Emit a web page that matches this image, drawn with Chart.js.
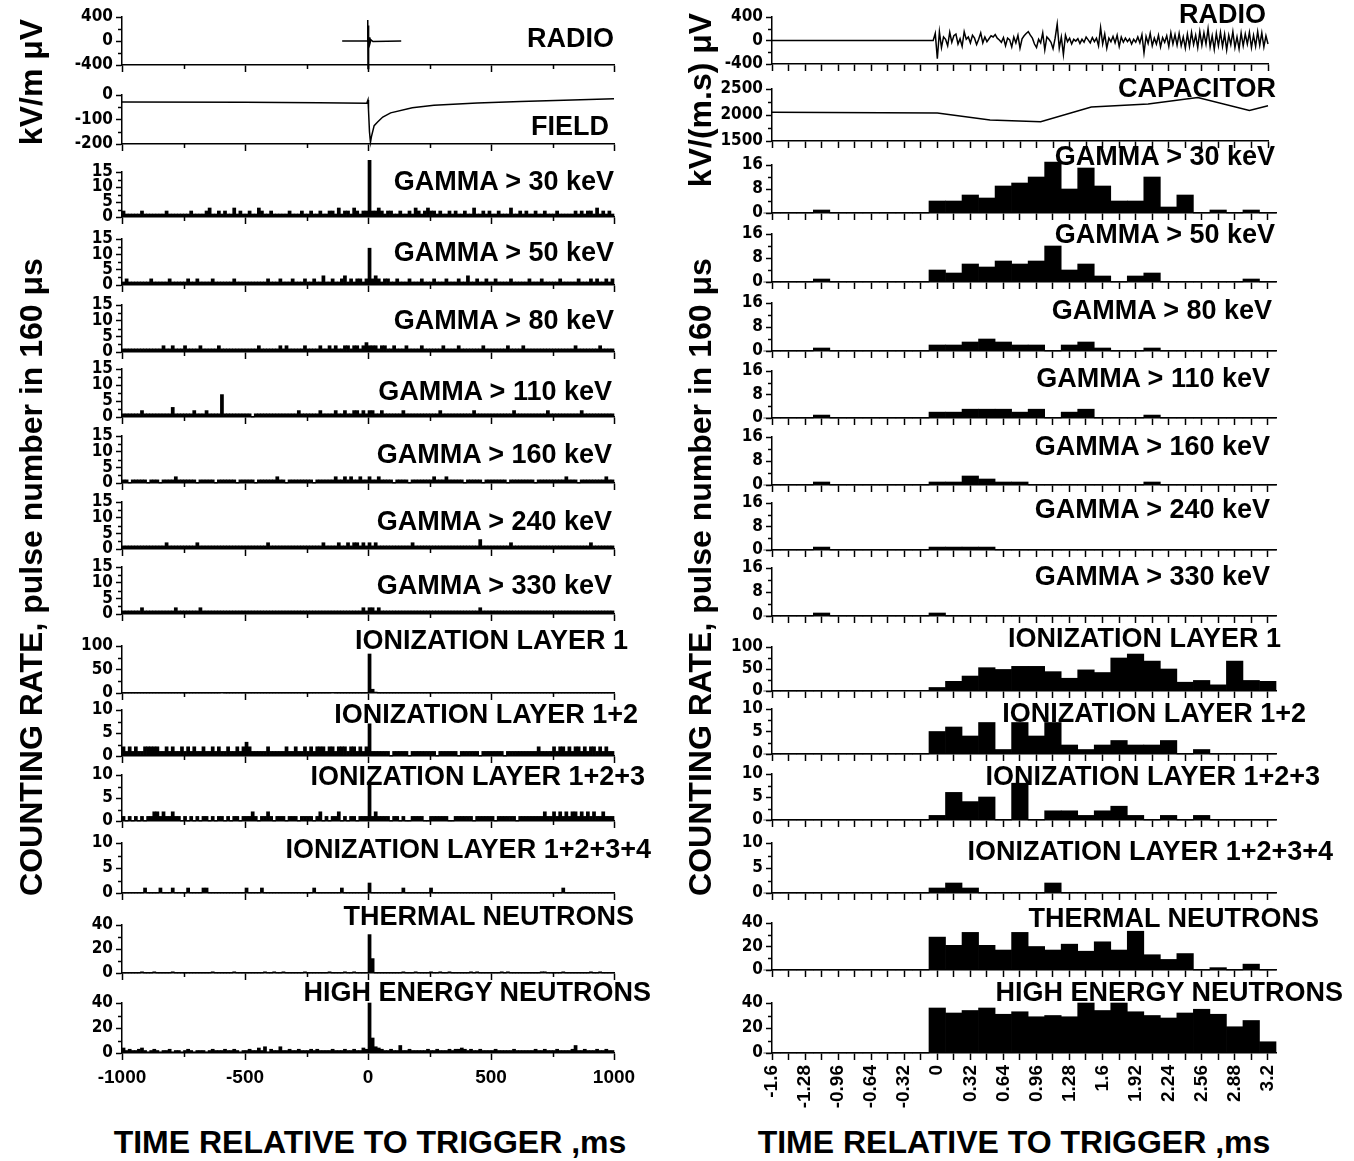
<!DOCTYPE html>
<html>
<head>
<meta charset="utf-8">
<script src="https://cdn.jsdelivr.net/npm/chart.js@4.4.1/dist/chart.umd.min.js"></script>
<style>
body { margin: 0; background: #fff; }
#page { position: relative; width: 1354px; height: 1161px; overflow: hidden; background: #fff;
        font-family: "Liberation Sans", Arial, sans-serif; font-weight: bold; color: #000; }
#page canvas { position: absolute; }
.ttl { position: absolute; font-size: 27px; line-height: 30px; white-space: nowrap; }
.axt { position: absolute; font-size: 32px; line-height: 36px; white-space: nowrap; transform: translate(-50%, -50%) rotate(-90deg); }
.xt  { position: absolute; font-size: 32px; line-height: 36px; white-space: nowrap; transform: translate(-50%, -50%); }
</style>
</head>
<body>
<div id="page"></div>
<script>
// ---------- left column: -1000..1000 ms, 12.5 ms bins ----------
var radioLt = [-105, -3, -1, 0, 1, 2, 3, 4, 6, 8, 12, 20, 135];
var radioLv = [0, 0, 350, -460, 260, -180, 100, -90, 60, -40, 20, -10, 0];

var fieldLt = [-1000, -500, -200, -5, 0, 2, 6, 10, 14, 25, 39, 60, 92, 180, 268, 444, 620, 796, 1000];
var fieldLv = [-29, -30, -32, -34, -20, -60, -150, -193, -170, -125, -110, -90, -73, -52, -42, -33, -27, -21, -15];

var g30L = [
  2,1,1,1,1,1,2,1,1,1,1,1,1,1,2,1,1,1,1,1,
  1,1,2,1,1,1,1,2,3,1,1,2,1,2,1,1,3,1,2,1,
  1,2,1,1,3,2,1,1,2,1,1,1,1,1,2,1,1,1,2,1,
  1,2,1,1,2,1,1,2,2,1,3,1,2,2,1,3,2,1,2,2,
  20,2,2,3,2,1,2,2,1,1,2,1,1,2,1,3,2,1,2,3,
  2,2,1,2,1,1,2,1,2,1,1,2,1,1,3,1,1,2,1,2,
  1,1,2,1,1,1,3,1,1,2,1,2,1,1,2,1,1,2,1,1,
  1,2,1,1,1,1,1,2,1,2,1,2,2,1,3,1,2,1,2,1];
var g50L = [
  1,2,1,1,1,1,1,1,1,2,1,1,1,1,1,2,1,1,1,1,
  1,2,1,1,2,1,1,1,1,2,1,1,1,1,1,1,2,1,1,1,
  1,1,1,1,1,1,1,2,1,1,1,2,1,1,1,2,1,1,1,2,
  1,1,2,1,1,3,1,1,2,1,1,2,3,1,2,1,2,2,1,2,
  12,2,3,2,1,2,2,1,1,2,1,1,1,2,1,1,1,2,1,1,
  1,2,1,1,1,2,1,1,1,2,1,1,3,1,1,2,1,1,2,1,
  1,2,1,1,1,1,2,1,1,1,1,1,2,1,1,1,2,1,1,1,
  1,1,2,1,1,1,1,1,2,1,1,1,2,1,2,1,1,2,1,2];
var g80L = [
  1,1,1,1,1,1,1,1,1,1,1,1,1,2,1,1,2,1,1,1,
  2,1,1,1,1,2,1,1,1,1,1,2,1,1,1,1,1,1,1,1,
  1,1,1,1,2,1,1,1,1,1,1,2,1,2,1,1,1,1,1,2,
  1,1,1,1,2,1,1,2,1,2,1,1,2,2,1,2,2,1,2,3,
  2,2,2,1,2,2,1,1,2,1,1,1,2,1,1,1,1,2,1,1,
  1,1,1,1,2,1,1,1,1,2,1,1,1,1,1,1,1,2,1,1,
  1,1,1,1,1,2,1,1,1,1,2,1,1,1,1,1,1,1,1,1,
  1,1,1,1,1,1,1,2,1,1,1,1,1,1,1,2,1,1,1,1];
var g110L = [
  1,1,1,1,1,1,2,1,1,1,1,1,1,1,1,1,3,1,1,1,
  1,1,1,2,1,1,1,2,1,1,1,1,7,1,1,1,1,1,1,1,
  1,1,0,1,1,1,1,1,1,1,1,1,1,1,1,1,1,2,1,1,
  1,1,1,1,2,1,1,1,1,2,1,1,2,1,1,2,2,1,2,1,
  2,2,1,1,2,1,1,1,1,1,1,2,1,1,1,1,1,1,1,1,
  1,1,1,2,1,1,1,1,1,1,1,1,1,1,2,1,1,1,1,1,
  1,1,1,1,1,1,1,2,1,1,1,1,1,1,1,1,1,1,2,1,
  1,1,1,1,1,1,1,1,1,2,1,1,1,1,1,1,1,1,1,1];
var g160L = [
  1,1,0,1,1,1,1,1,0,1,1,1,0,1,1,1,1,2,1,1,
  1,1,1,1,0,1,1,1,1,1,0,1,1,1,1,1,1,0,1,1,
  1,1,1,0,1,1,1,1,1,1,2,1,1,0,1,1,1,1,1,1,
  1,1,0,1,1,1,1,1,1,2,1,1,2,1,2,1,1,2,1,1,
  2,1,1,2,1,1,1,1,0,1,1,1,1,0,1,1,1,1,1,1,
  1,2,1,1,1,2,1,1,1,1,1,0,1,1,1,1,1,0,1,1,
  1,1,1,1,1,0,1,1,1,1,1,1,1,1,0,1,1,1,1,1,
  1,1,1,1,2,1,1,1,0,1,1,1,1,1,1,1,1,2,1,1];
var g240L = [
  1,1,1,1,1,1,1,1,1,1,1,1,1,1,2,1,1,1,1,1,
  1,1,1,1,2,1,1,1,1,1,1,1,1,1,1,1,1,1,1,1,
  1,1,1,1,1,1,1,2,1,1,1,1,1,1,1,1,1,1,1,1,
  1,1,1,1,1,2,1,1,1,1,2,1,1,2,1,2,2,1,2,1,
  2,1,2,1,1,1,1,1,1,1,1,1,1,1,2,1,1,1,1,1,
  1,1,1,1,1,1,1,1,1,1,1,1,1,1,1,1,3,1,1,1,
  1,1,1,1,1,1,2,1,1,1,1,1,1,1,1,1,1,1,1,1,
  1,1,1,1,1,1,1,1,1,1,1,1,2,1,1,1,1,1,1,1];
var g330L = [
  1,1,1,1,1,1,2,1,1,1,1,1,1,1,1,1,1,2,1,1,
  1,1,1,1,1,2,1,1,1,1,1,1,1,1,1,1,1,1,1,1,
  1,1,1,1,1,1,1,1,1,1,1,1,1,1,1,1,1,1,1,1,
  1,1,1,1,1,1,1,1,1,1,1,1,1,1,1,1,1,1,2,1,
  2,2,1,2,1,1,1,1,1,1,1,1,1,1,1,1,1,1,1,1,
  1,1,1,1,1,1,1,1,1,1,1,1,1,1,1,1,2,1,1,1,
  1,1,1,1,1,1,1,1,1,1,1,1,1,1,1,1,1,1,1,1,
  1,1,1,1,1,1,1,1,1,1,1,1,1,1,1,1,1,1,1,1];
var ion1L = [
  0,0,0,0,0,0,0,0,0,0,0,0,0,0,0,0,0,0,0,0,
  0,0,0,0,0,0,0,0,0,0,0,0,1,0,0,0,0,0,0,0,
  0,0,0,0,0,0,0,0,0,0,0,0,0,0,0,0,0,0,0,0,
  0,0,0,0,0,0,0,0,1,0,0,0,0,0,0,0,0,0,0,0,
  83,8,2,0,0,0,0,0,0,0,0,0,0,0,0,0,0,0,0,0,
  0,0,0,0,0,0,0,0,0,0,0,0,0,0,0,0,0,0,0,0,
  0,0,0,0,0,0,0,0,0,0,0,0,0,0,0,0,0,0,0,0,
  0,0,0,0,0,0,0,0,0,0,0,0,0,0,0,0,0,0,0,0];
var ion12L = [
  2,1,2,1,2,1,1,2,2,2,2,2,1,1,2,1,2,1,1,2,
  1,2,1,2,1,1,2,1,1,2,1,2,1,1,2,1,1,2,1,2,
  3,2,1,1,1,1,1,2,1,1,1,1,1,2,1,1,2,1,1,2,
  1,2,1,2,2,2,1,2,2,1,2,2,2,1,2,2,1,2,1,2,
  7,1,1,1,1,1,1,0,1,1,1,1,1,0,1,1,1,1,1,1,
  1,1,0,1,1,1,1,1,1,0,1,1,1,1,1,1,0,1,1,1,
  1,1,1,1,0,1,1,1,1,1,1,1,1,1,1,2,1,1,1,1,
  2,1,2,2,1,2,1,2,2,1,2,1,2,2,1,2,1,2,1,1];
var ion123L = [
  1,0,1,0,1,0,1,0,1,1,2,2,1,2,1,1,2,1,1,0,
  1,0,1,0,1,0,1,1,0,1,0,1,1,0,1,0,1,1,0,1,
  1,1,2,1,0,1,1,2,1,0,1,1,1,0,1,1,1,0,1,1,
  1,1,0,1,2,0,1,0,1,1,2,0,1,0,1,1,0,1,1,1,
  8,1,2,1,1,1,1,0,1,1,0,1,0,0,1,1,1,1,0,0,
  1,1,1,1,1,1,0,0,1,1,1,1,1,1,0,1,1,1,1,1,
  1,0,1,1,1,1,1,1,0,1,1,1,1,1,1,1,1,2,1,1,
  2,1,2,1,2,1,2,2,1,2,1,2,1,2,1,1,2,1,1,1];
var ion1234L = [
  0,0,0,0,0,0,0,1,0,0,0,0,1,0,0,0,1,0,0,0,
  0,1,0,0,0,0,1,1,0,0,0,0,0,0,0,0,0,0,0,0,
  1,0,0,0,0,1,0,0,0,0,0,0,0,0,0,0,0,0,0,0,
  0,0,1,0,0,0,0,0,0,0,0,1,0,0,0,0,0,0,0,0,
  2,0,0,0,0,0,0,0,0,0,0,1,0,0,0,0,0,0,0,0,
  1,0,0,0,0,0,0,0,0,0,0,0,0,0,0,0,0,0,0,0,
  0,0,0,0,0,0,0,0,0,0,0,0,0,0,0,0,0,0,0,0,
  0,0,0,1,0,0,0,0,0,0,0,0,0,0,0,0,0,0,0,0];
var thermalL = [
  0,0,0,0,0,0,1,0,0,0,1,0,0,0,0,0,1,0,0,0,
  0,0,0,0,0,0,0,0,0,1,0,0,0,0,0,0,1,0,0,0,
  0,0,0,0,0,0,1,0,0,1,0,0,1,0,0,0,0,0,0,1,
  0,0,0,0,0,0,0,1,0,0,0,0,1,0,0,1,0,0,0,0,
  32,12,0,0,0,0,0,0,0,0,0,1,0,0,0,1,0,0,0,0,
  1,0,0,1,0,0,1,0,0,0,0,0,0,1,0,1,0,0,0,0,
  0,0,0,1,0,1,0,0,0,0,0,0,0,0,0,0,1,1,0,0,
  0,0,0,1,0,0,0,0,0,0,0,0,1,0,0,1,0,0,0,0];
var henL = [
  4,2,3,2,2,3,4,2,1,2,3,2,1,2,2,3,1,2,2,1,
  2,3,2,1,2,2,2,1,2,3,2,2,2,3,2,2,3,2,1,2,
  2,3,2,2,4,2,5,1,3,2,2,5,2,2,3,2,2,3,2,2,
  2,3,2,3,2,2,2,2,3,2,2,2,3,2,2,3,2,2,4,3,
  40,12,5,4,3,2,2,3,2,2,6,2,2,3,2,2,2,2,2,3,
  2,2,3,2,2,2,3,2,3,3,4,3,2,3,2,2,3,2,2,2,
  2,3,2,2,2,2,2,3,2,2,2,2,2,2,3,2,2,3,2,2,
  2,3,2,2,2,2,3,6,2,2,3,2,2,2,3,2,2,3,2,2];

// ---------- right column: -1.6..3.2 ms, 0.16 ms bins centred on k*0.16 ----------
// radio samples every 0.02 ms starting at -0.06 ms (flat zero before that)
var radioR = [
  0,0,120,-310,150,-120,60,20,-90,140,-30,80,110,-60,30,-100,150,20,60,-40,
  90,40,-70,20,130,-40,60,-20,30,80,60,100,40,10,-30,50,-90,40,10,-110,
  60,-40,90,-130,30,80,120,150,90,40,-60,-120,20,-40,130,-160,60,20,-30,-140,
  40,280,-130,60,-240,90,-20,40,-60,20,-10,30,-50,20,-30,60,10,-40,50,-20,
  40,-90,220,-60,110,-130,40,-20,70,-40,90,-100,60,-30,40,-20,30,-60,20,-30,
  60,-40,100,-210,70,-50,120,-90,40,-60,90,-110,50,-30,80,-100,130,-60,100,-80,
  120,-90,60,-130,110,-100,140,-70,90,-120,150,-80,130,-60,200,-110,80,-150,120,-90,
  140,-100,110,-160,90,-70,150,-120,60,-140,130,-90,110,-60,140,-120,90,-100,150,-80,
  130,-110,80,-60];

var capT = [-1.6, 0, 0.51, 1.0, 1.49, 2.04, 2.52, 3.02, 3.2];
var capV = [2054, 2040, 1905, 1872, 2155, 2210, 2338, 2088, 2176];

var g30R  = [0,0,0,1,0,0,0,0,0,0, 4,4,6,5,9,10,12,17,8,15,9,4,4,12,2,6,0,1,0,1,0];
var g50R  = [0,0,0,1,0,0,0,0,0,0, 4,3,6,5,7,6,7,12,4,6,2,0,2,3,0,0,0,0,0,1,0];
var g80R  = [0,0,0,1,0,0,0,0,0,0, 2,2,3,4,3,2,2,0,2,3,1,0,0,1,0,0,0,0,0,0,0];
var g110R = [0,0,0,1,0,0,0,0,0,0, 2,2,3,3,3,2,3,0,2,3,0,0,0,1,0,0,0,0,0,0,0];
var g160R = [0,0,0,1,0,0,0,0,0,0, 1,1,3,2,1,1,0,0,0,0,0,0,0,1,0,0,0,0,0,0,0];
var g240R = [0,0,0,1,0,0,0,0,0,0, 1,1,1,1,0,0,0,0,0,0,0,0,0,0,0,0,0,0,0,0,0];
var g330R = [0,0,0,1,0,0,0,0,0,0, 1,0,0,0,0,0,0,0,0,0,0,0,0,0,0,0,0,0,0,0,0];
var ion1R    = [0,0,0,0,0,0,0,1,1,1, 8,22,34,53,49,56,56,44,29,48,42,75,84,68,50,20,24,14,68,24,22];
var ion12R   = [0,0,0,0,0,0,0,0,0,0, 5,6,4,7,1,7,4,7,2,1,2,3,2,2,3,0,1,0,0,0,0];
var ion123R  = [0,0,0,0,0,0,0,0,0,0, 1,6,4,5,0,8,0,2,2,1,2,3,1,0,1,0,1,0,0,0,0];
var ion1234R = [0,0,0,0,0,0,0,0,0,0, 1,2,1,0,0,0,0,2,0,0,0,0,0,0,0,0,0,0,0,0,0];
var thermalR = [0,0,0,0,0,0,0,0,0,0, 28,21,32,21,17,32,20,17,22,16,24,17,33,13,9,14,0,2,0,5,0];
var henR     = [0,0,0,0,0,0,0,0,0,0, 36,32,34,36,31,33,29,30,29,40,34,40,33,30,28,32,35,31,21,26,9];

// ---------- helpers ----------
function bins(values, start, width) {
    return values.map(function (v, i) { return { x: start + width * (i + 0.5), y: v }; });
}
function pts(t, v) {
    return t.map(function (x, i) { return { x: x, y: v[i] }; });
}

/**
 * short minor ticks between the labelled ones, drawn from the chart's own scales */
var minorTicks = {
    id: 'minorTicks',
    afterDraw: function (chart, args, opts) {
        var ctx = chart.ctx, xs = chart.scales.x, ys = chart.scales.y;
        ctx.save();
        ctx.strokeStyle = '#000';
        ctx.lineWidth = 1.5;
        ctx.beginPath();
        (opts.x || []).forEach(function (v) {
            var px = Math.round(xs.getPixelForValue(v)) + 0.5;
            ctx.moveTo(px, xs.top); ctx.lineTo(px, xs.top + 4);
        });
        (opts.y || []).forEach(function (v) {
            var py = Math.round(ys.getPixelForValue(v)) + 0.5;
            ctx.moveTo(ys.right, py); ctx.lineTo(ys.right - 4, py);
        });
        ctx.stroke();
        ctx.restore();
    }
};
Chart.register(minorTicks);

var FONT_Y = { family: '"Liberation Sans Narrow", "DejaVu Sans Condensed", "Liberation Sans", sans-serif', size: 17, weight: 'bold' };
var FONT_X = { family: '"Liberation Sans", Arial, sans-serif', size: 19, weight: 'bold' };
var PAD_TOP = 12;
var page = document.getElementById('page');

var rTicks = [];
for (var k = -10; k <= 20; k++) rTicks.push(k * 0.16);

var COLS = {
    L: { left: 0, width: 660, axis: 122, right: 614, xMin: -1000, xMax: 1000, xh: 36, rot: 0, pad: 6,
         xTicks: [-1000, -500, 0, 500, 1000], xMinor: [-750, -250, 250, 750],
         label: function (v) { return String(v); } },
    R: { left: 660, width: 694, axis: 772, right: 1276, xMin: -1.6, xMax: 3.28, xh: 62, rot: 90, pad: 5,
         xTicks: rTicks, xMinor: [],
         label: function (v, i) { return i % 2 === 0 ? String(+v.toFixed(2)) : ''; } }
};

var Y_RADIO = { min: -400, max: 400, major: [-400, 0, 400], minor: [-200, 200] };
var Y_GAMMA_L = { min: 0, max: 15, major: [0, 5, 10, 15], minor: [2.5, 7.5, 12.5] };
var Y_GAMMA_R = { min: 0, max: 16, major: [0, 8, 16], minor: [4, 12] };
var Y_ION1 = { min: 0, max: 100, major: [0, 50, 100], minor: [25, 75] };
var Y_ION = { min: 0, max: 10, major: [0, 5, 10], minor: [2.5, 7.5] };
var Y_NEUT = { min: 0, max: 40, major: [0, 20, 40], minor: [10, 30] };

var LB = function (v) { return bins(v, -1000, 12.5); };
var RB = function (v) { return bins(v, -1.68, 0.16); };

var leftPanels = [
    { title: 'RADIO', tr: 614, ty: 38, top: 17, bottom: 65, y: Y_RADIO, kind: 'line', data: pts(radioLt, radioLv) },
    { title: 'FIELD', tr: 609, ty: 126, top: 95, bottom: 144, kind: 'line', data: pts(fieldLt, fieldLv),
      y: { min: -200, max: 0, major: [-200, -100, 0], minor: [-150, -50] } },
    { title: 'GAMMA > 30 keV', tr: 614, ty: 181, top: 172, bottom: 217, y: Y_GAMMA_L, kind: 'bar', data: LB(g30L) },
    { title: 'GAMMA > 50 keV', tr: 614, ty: 252, top: 239, bottom: 285, y: Y_GAMMA_L, kind: 'bar', data: LB(g50L) },
    { title: 'GAMMA > 80 keV', tr: 614, ty: 320, top: 305, bottom: 352, y: Y_GAMMA_L, kind: 'bar', data: LB(g80L) },
    { title: 'GAMMA > 110 keV', tr: 612, ty: 391, top: 369, bottom: 417, y: Y_GAMMA_L, kind: 'bar', data: LB(g110L) },
    { title: 'GAMMA > 160 keV', tr: 612, ty: 454, top: 436, bottom: 483, y: Y_GAMMA_L, kind: 'bar', data: LB(g160L) },
    { title: 'GAMMA > 240 keV', tr: 612, ty: 521, top: 502, bottom: 549, y: Y_GAMMA_L, kind: 'bar', data: LB(g240L) },
    { title: 'GAMMA > 330 keV', tr: 612, ty: 585, top: 567, bottom: 614, y: Y_GAMMA_L, kind: 'bar', data: LB(g330L) },
    { title: 'IONIZATION LAYER 1', tr: 628, ty: 640, top: 646, bottom: 693, y: Y_ION1, kind: 'bar', data: LB(ion1L) },
    { title: 'IONIZATION LAYER 1+2', tr: 638, ty: 714, top: 710, bottom: 756, y: Y_ION, kind: 'bar', data: LB(ion12L) },
    { title: 'IONIZATION LAYER 1+2+3', tr: 645, ty: 776, top: 775, bottom: 821, y: Y_ION, kind: 'bar', data: LB(ion123L) },
    { title: 'IONIZATION LAYER 1+2+3+4', tr: 651, ty: 849, top: 843, bottom: 893, y: Y_ION, kind: 'bar', data: LB(ion1234L) },
    { title: 'THERMAL NEUTRONS', tr: 634, ty: 916, top: 925, bottom: 973, y: Y_NEUT, kind: 'bar', data: LB(thermalL) },
    { title: 'HIGH ENERGY NEUTRONS', tr: 651, ty: 992, top: 1003, bottom: 1053, y: Y_NEUT, kind: 'bar', data: LB(henL) }
];

var radioRt = radioR.map(function (v, i) { return +(-0.06 + 0.02 * i).toFixed(2); });

var rightPanels = [
    { title: 'RADIO', tr: 1266, ty: 14, top: 17, bottom: 64, y: Y_RADIO, kind: 'line', xMax: 3.2, right: 1268,
      data: [{ x: -1.6, y: 0 }].concat(pts(radioRt, radioR)) },
    { title: 'CAPACITOR', tr: 1276, ty: 88, top: 89, bottom: 141, kind: 'line', xMax: 3.2, right: 1268,
      data: pts(capT, capV), y: { min: 1500, max: 2500, major: [1500, 2000, 2500], minor: [1750, 2250] } },
    { title: 'GAMMA > 30 keV', tr: 1275, ty: 156, top: 165, bottom: 213, y: Y_GAMMA_R, kind: 'bar', data: RB(g30R) },
    { title: 'GAMMA > 50 keV', tr: 1275, ty: 234, top: 234, bottom: 282, y: Y_GAMMA_R, kind: 'bar', data: RB(g50R) },
    { title: 'GAMMA > 80 keV', tr: 1272, ty: 310, top: 303, bottom: 351, y: Y_GAMMA_R, kind: 'bar', data: RB(g80R) },
    { title: 'GAMMA > 110 keV', tr: 1270, ty: 378, top: 371, bottom: 418, y: Y_GAMMA_R, kind: 'bar', data: RB(g110R) },
    { title: 'GAMMA > 160 keV', tr: 1270, ty: 446, top: 437, bottom: 485, y: Y_GAMMA_R, kind: 'bar', data: RB(g160R) },
    { title: 'GAMMA > 240 keV', tr: 1270, ty: 509, top: 503, bottom: 550, y: Y_GAMMA_R, kind: 'bar', data: RB(g240R) },
    { title: 'GAMMA > 330 keV', tr: 1270, ty: 576, top: 568, bottom: 616, y: Y_GAMMA_R, kind: 'bar', data: RB(g330R) },
    { title: 'IONIZATION LAYER 1', tr: 1281, ty: 638, top: 647, bottom: 691, y: Y_ION1, kind: 'bar', data: RB(ion1R) },
    { title: 'IONIZATION LAYER 1+2', tr: 1306, ty: 713, top: 709, bottom: 754, y: Y_ION, kind: 'bar', data: RB(ion12R) },
    { title: 'IONIZATION LAYER 1+2+3', tr: 1320, ty: 776, top: 774, bottom: 820, y: Y_ION, kind: 'bar', data: RB(ion123R) },
    { title: 'IONIZATION LAYER 1+2+3+4', tr: 1333, ty: 851, top: 843, bottom: 893, y: Y_ION, kind: 'bar', data: RB(ion1234R) },
    { title: 'THERMAL NEUTRONS', tr: 1319, ty: 918, top: 923, bottom: 970, y: Y_NEUT, kind: 'bar', data: RB(thermalR) },
    { title: 'HIGH ENERGY NEUTRONS', tr: 1343, ty: 992, top: 1003, bottom: 1053, y: Y_NEUT, kind: 'bar', data: RB(henR) }
];

/**
 * one stacked panel = one canvas + one Chart, placed so its plot area lands on the page grid */
function makePanel(colName, p, isBottom) {
    var c = COLS[colName];
    var xMax = p.xMax !== undefined ? p.xMax : c.xMax;
    var right = p.right || c.right;
    var xh = isBottom ? c.xh : 10;
    var h = p.bottom - p.top + PAD_TOP + xh;

    var canvas = document.createElement('canvas');
    canvas.width = c.width;
    canvas.height = h;
    canvas.style.left = c.left + 'px';
    canvas.style.top = (p.top - PAD_TOP) + 'px';
    canvas.style.width = c.width + 'px';
    canvas.style.height = h + 'px';
    page.appendChild(canvas);

    var ds = p.kind === 'bar'
        ? { data: p.data, backgroundColor: '#000', borderWidth: 0, barPercentage: 1, categoryPercentage: 1, clip: false }
        : { data: p.data, borderColor: '#000', borderWidth: 1.5, pointRadius: 0, tension: 0, fill: false, clip: false };

    new Chart(canvas, {
        type: p.kind,
        data: { datasets: [ds] },
        options: {
            responsive: false,
            animation: false,
            events: [],
            layout: { padding: { top: PAD_TOP, left: 0, bottom: 0, right: c.left + c.width - right } },
            plugins: {
                legend: { display: false },
                tooltip: { enabled: false },
                minorTicks: { x: c.xMinor, y: p.y.minor }
            },
            scales: {
                x: {
                    type: 'linear', min: c.xMin, max: xMax, offset: false,
                    grid: { drawOnChartArea: false, offset: false, tickLength: 7, tickWidth: 1.5, tickColor: '#000' },
                    border: { display: true, color: '#000', width: 1.5 },
                    ticks: { display: isBottom, autoSkip: false, maxRotation: c.rot, minRotation: c.rot,
                             font: FONT_X, color: '#000', padding: c.pad,
                             callback: function (v, i) { return c.label(v, i); } },
                    afterBuildTicks: function (s) {
                        s.ticks = c.xTicks.filter(function (v) { return v <= xMax + 1e-9; })
                                          .map(function (v) { return { value: v }; });
                    },
                    afterFit: function (s) { s.height = xh; s.paddingLeft = 0; s.paddingRight = 0; }
                },
                y: {
                    type: 'linear', min: p.y.min, max: p.y.max,
                    grid: { drawOnChartArea: false, tickLength: 6, tickWidth: 1.5, tickColor: '#000' },
                    border: { display: true, color: '#000', width: 1.5 },
                    ticks: { autoSkip: false, font: FONT_Y, color: '#000', padding: 3,
                             callback: function (v) { return String(v); } },
                    afterBuildTicks: function (s) {
                        s.ticks = p.y.major.map(function (v) { return { value: v }; });
                    },
                    afterFit: function (s) { s.width = c.axis - c.left; s.paddingTop = 0; s.paddingBottom = 0; }
                }
            }
        }
    });

    var t = document.createElement('div');
    t.className = 'ttl';
    t.textContent = p.title;
    t.style.right = (1354 - p.tr) + 'px';
    t.style.top = (p.ty - 15) + 'px';
    page.appendChild(t);
}

leftPanels.forEach(function (p, i) { makePanel('L', p, i === leftPanels.length - 1); });
rightPanels.forEach(function (p, i) { makePanel('R', p, i === rightPanels.length - 1); });

// axis titles
function addText(cls, text, x, y) {
    var d = document.createElement('div');
    d.className = cls;
    d.textContent = text;
    d.style.left = x + 'px';
    d.style.top = y + 'px';
    page.appendChild(d);
}
addText('axt', 'kV/m  μV', 31, 82);
addText('axt', 'COUNTING RATE, pulse number in 160 μs', 31, 577);
addText('axt', 'kV/(m.s) μV', 700, 100);
addText('axt', 'COUNTING RATE, pulse number in 160 μs', 700, 577);
addText('xt', 'TIME RELATIVE TO TRIGGER ,ms', 370, 1142);
addText('xt', 'TIME RELATIVE TO TRIGGER ,ms', 1014, 1142);
</script>
</body>
</html>
